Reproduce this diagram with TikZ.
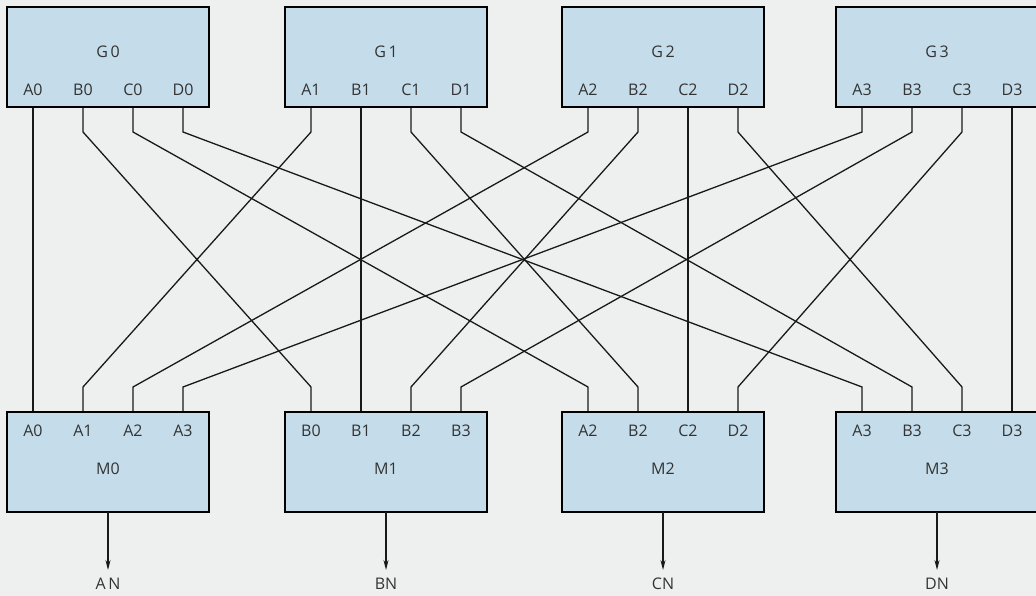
\documentclass[tikz,border=0pt]{standalone}
\usepackage{fontspec}
\setmainfont{Open Sans}
\usetikzlibrary{arrows.meta,calc}
\definecolor{bg}{RGB}{238,240,239}
\definecolor{boxfill}{RGB}{197,221,235}
\begin{document}
\begin{tikzpicture}[x=1pt,y=-1pt,
  modbox/.style={draw=black,line width=2.2pt,fill=boxfill,minimum width=202pt,minimum height=100pt,anchor=north west,inner sep=0pt,outer sep=0pt},
  lbl/.style={font=\fontsize{16}{17}\selectfont,inner sep=0pt,text=black!80,text height=11pt,text depth=0pt},
  wire/.style={line width=1.3pt,draw=black!90},
  ]
\fill[bg] (0,0) rectangle (1036,596);
\useasboundingbox (0,0) rectangle (1036,596);
% pin coordinates
\foreach \i/\L in {0/7,1/285,2/562,3/836} {
  \foreach \j in {0,...,3} {
    \coordinate (g\i\j) at (\L+26+50*\j,107);
    \coordinate (m\i\j) at (\L+26+50*\j,412);
  }
}
% wires: G_i pin j -> M_j pin i
\foreach \i in {0,...,3} {
  \foreach \j in {0,...,3} {
    \draw[wire] (g\i\j) -- ([yshift=-25pt]g\i\j) -- ([yshift=25pt]m\j\i) -- (m\j\i);
  }
}
% boxes
\foreach \i/\L in {0/7,1/285,2/562,3/836} {
  \node[modbox] (G\i) at (\L,7) {};
  \node[modbox] (M\i) at (\L,412) {};
  \node[lbl] (G\i name) at (\L+101,52) {G\,\i};
  \node[lbl] (M\i name) at (\L+101,469) {M\i};
  \node[lbl] (G\i pa) at (\L+26,90) {A\i};
  \node[lbl] (G\i pb) at (\L+76,90) {B\i};
  \node[lbl] (G\i pc) at (\L+126,90) {C\i};
  \node[lbl] (G\i pd) at (\L+176,90) {D\i};
  \coordinate (o\i) at (\L+101,570);
  \draw[wire,-{Stealth[length=10pt,width=5pt]}] (M\i.south) -- (o\i);
}
% bottom pin labels
\foreach \i/\L/\a/\b/\c/\d in {0/7/A0/A1/A2/A3, 1/285/B0/B1/B2/B3, 2/562/A2/B2/C2/D2, 3/836/A3/B3/C3/D3} {
  \node[lbl] (M\i pa) at (\L+26,431) {\a};
  \node[lbl] (M\i pb) at (\L+76,431) {\b};
  \node[lbl] (M\i pc) at (\L+126,431) {\c};
  \node[lbl] (M\i pd) at (\L+176,431) {\d};
}
\node[lbl] (AN) at (108,584) {A\,N};
\node[lbl] (BN) at (386,584) {BN};
\node[lbl] (CN) at (663,584) {CN};
\node[lbl] (DN) at (937,584) {DN};
\end{tikzpicture}
\end{document}
